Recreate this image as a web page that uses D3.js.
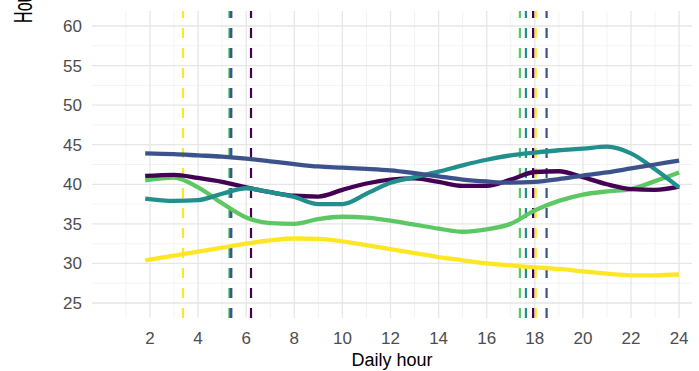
<!DOCTYPE html>
<html>
<head>
<meta charset="utf-8">
<script src="https://cdn.jsdelivr.net/npm/d3@7"></script>
<style>
  html, body { margin: 0; padding: 0; background: #fff; }
  svg { display: block; font-family: "Liberation Sans", Arial, sans-serif; }
</style>
</head>
<body>
<svg id="chart" width="699" height="371"></svg>
<script>
// Hourly profiles of five groups (viridis palette)
const hours = [1.8, 3, 4, 5, 6, 7, 8, 9, 10, 11, 12, 13, 14, 15, 16, 17, 18, 19, 20, 21, 22, 23, 24];
const groupNames = ["G1", "G2", "G3", "G4", "G5"];
const groupColors = ["#440154", "#3B528B", "#21908C", "#5DC863", "#FDE725"];

const seriesG1 = [41.05, 41.2, 40.8, 40.3, 39.6, 39.0, 38.55, 38.45, 39.3, 40.1, 40.6, 40.75, 40.3, 39.8, 39.8, 40.6, 41.55, 41.65, 40.9, 40.0, 39.4, 39.3, 39.7];
const seriesG2 = [43.9, 43.8, 43.65, 43.5, 43.25, 42.9, 42.55, 42.25, 42.1, 41.95, 41.75, 41.4, 41.0, 40.6, 40.35, 40.2, 40.3, 40.65, 41.1, 41.5, 42.0, 42.5, 43.0];
const seriesG3 = [38.2, 37.9, 38.0, 38.8, 39.5, 39.0, 38.4, 37.5, 37.5, 38.8, 40.2, 40.9, 41.6, 42.4, 43.1, 43.65, 44.0, 44.3, 44.5, 44.75, 43.9, 41.9, 39.6];
const seriesG4 = [40.5, 40.85, 39.6, 37.6, 35.8, 35.1, 35.0, 35.6, 35.9, 35.8, 35.4, 34.9, 34.4, 34.0, 34.3, 35.0, 36.7, 37.9, 38.7, 39.1, 39.4, 40.4, 41.5];
const seriesG5 = [30.4, 31.0, 31.5, 32.0, 32.5, 32.9, 33.15, 33.1, 32.8, 32.3, 31.8, 31.3, 30.8, 30.4, 30.0, 29.75, 29.5, 29.3, 29.0, 28.7, 28.5, 28.5, 28.6];

// Transition hours per group (morning / evening), drawn as dashed verticals
const morningHours = [6.2, 5.38, 5.34, 5.30, 3.37];
const eveningHours = [17.93, 18.49, 17.63, 17.38, 18.04];

const xTicks = [2, 4, 6, 8, 10, 12, 14, 16, 18, 20, 22, 24];
const yTicks = [25, 30, 35, 40, 45, 50, 55, 60];
const xMinor = [1, 3, 5, 7, 9, 11, 13, 15, 17, 19, 21, 23];
const yMinor = [27.5, 32.5, 37.5, 42.5, 47.5, 52.5, 57.5];

const svg = d3.select("#chart");
const panel = { left: 92, right: 692, top: 11, bottom: 318 };

// x: hour -> px, y: value -> px
const x = d3.scaleLinear().domain([0, 24]).range([101.9, 101.9 + 24 * 24.05]);
const y = d3.scaleLinear().domain([25, 60]).range([303, 26]);

const g = svg.append("g");

// grid
g.selectAll("line.ymin").data(yMinor).join("line")
  .attr("x1", panel.left).attr("x2", panel.right)
  .attr("y1", d => y(d)).attr("y2", d => y(d))
  .attr("stroke", "#f0f0f0").attr("stroke-width", 0.8);
g.selectAll("line.xmin").data(xMinor).join("line")
  .attr("y1", panel.top).attr("y2", panel.bottom)
  .attr("x1", d => x(d)).attr("x2", d => x(d))
  .attr("stroke", "#f0f0f0").attr("stroke-width", 0.8);
g.selectAll("line.ymaj").data(yTicks).join("line")
  .attr("x1", panel.left).attr("x2", panel.right)
  .attr("y1", d => y(d)).attr("y2", d => y(d))
  .attr("stroke", "#e6e6e6").attr("stroke-width", 1.3);
g.selectAll("line.xmaj").data(xTicks).join("line")
  .attr("y1", panel.top).attr("y2", panel.bottom)
  .attr("x1", d => x(d)).attr("x2", d => x(d))
  .attr("stroke", "#e6e6e6").attr("stroke-width", 1.3);

// dashed transition lines, drawn from the bottom of the panel upwards
function vlines(hoursArr, cls) {
  g.selectAll("line." + cls).data(hoursArr.map((h, i) => ({ h, i })).reverse()).join("line")
    .attr("class", cls)
    .attr("x1", d => x(d.h)).attr("x2", d => x(d.h))
    .attr("y1", panel.bottom).attr("y2", panel.top)
    .attr("stroke", d => groupColors[d.i])
    .attr("stroke-width", 2.2)
    .attr("stroke-dasharray", "10,10");
}
vlines(morningHours, "vm");
vlines(eveningHours, "ve");

// series lines
const allSeries = [seriesG1, seriesG2, seriesG3, seriesG4, seriesG5];
const line = d3.line()
  .x((d, i) => x(hours[i]))
  .y(d => y(d))
  .curve(d3.curveMonotoneX);

const drawOrder = [4, 3, 0, 2, 1];
drawOrder.forEach(k => {
  g.append("path")
    .datum(allSeries[k])
    .attr("d", line)
    .attr("fill", "none")
    .attr("stroke", groupColors[k])
    .attr("stroke-width", 4.3)
    .attr("stroke-linecap", "butt")
    .attr("stroke-linejoin", "round");
});

// axis labels
g.selectAll("text.xt").data(xTicks).join("text")
  .attr("x", d => x(d)).attr("y", 344)
  .attr("text-anchor", "middle")
  .attr("font-size", 17).attr("fill", "#4d4d4d")
  .text(d => d);
g.selectAll("text.yt").data(yTicks).join("text")
  .attr("x", 82).attr("y", d => y(d) + 6)
  .attr("text-anchor", "end")
  .attr("font-size", 17).attr("fill", "#4d4d4d")
  .text(d => d);

svg.append("text")
  .attr("x", (panel.left + panel.right) / 2).attr("y", 366)
  .attr("text-anchor", "middle")
  .attr("font-size", 18).attr("fill", "#000")
  .text("Daily hour");

svg.append("text")
  .attr("transform", "translate(32,23) rotate(-90) scale(0.62,1)")
  .attr("text-anchor", "start")
  .attr("font-size", 26).attr("fill", "#000")
  .text("Hourly value");
</script>
</body>
</html>
